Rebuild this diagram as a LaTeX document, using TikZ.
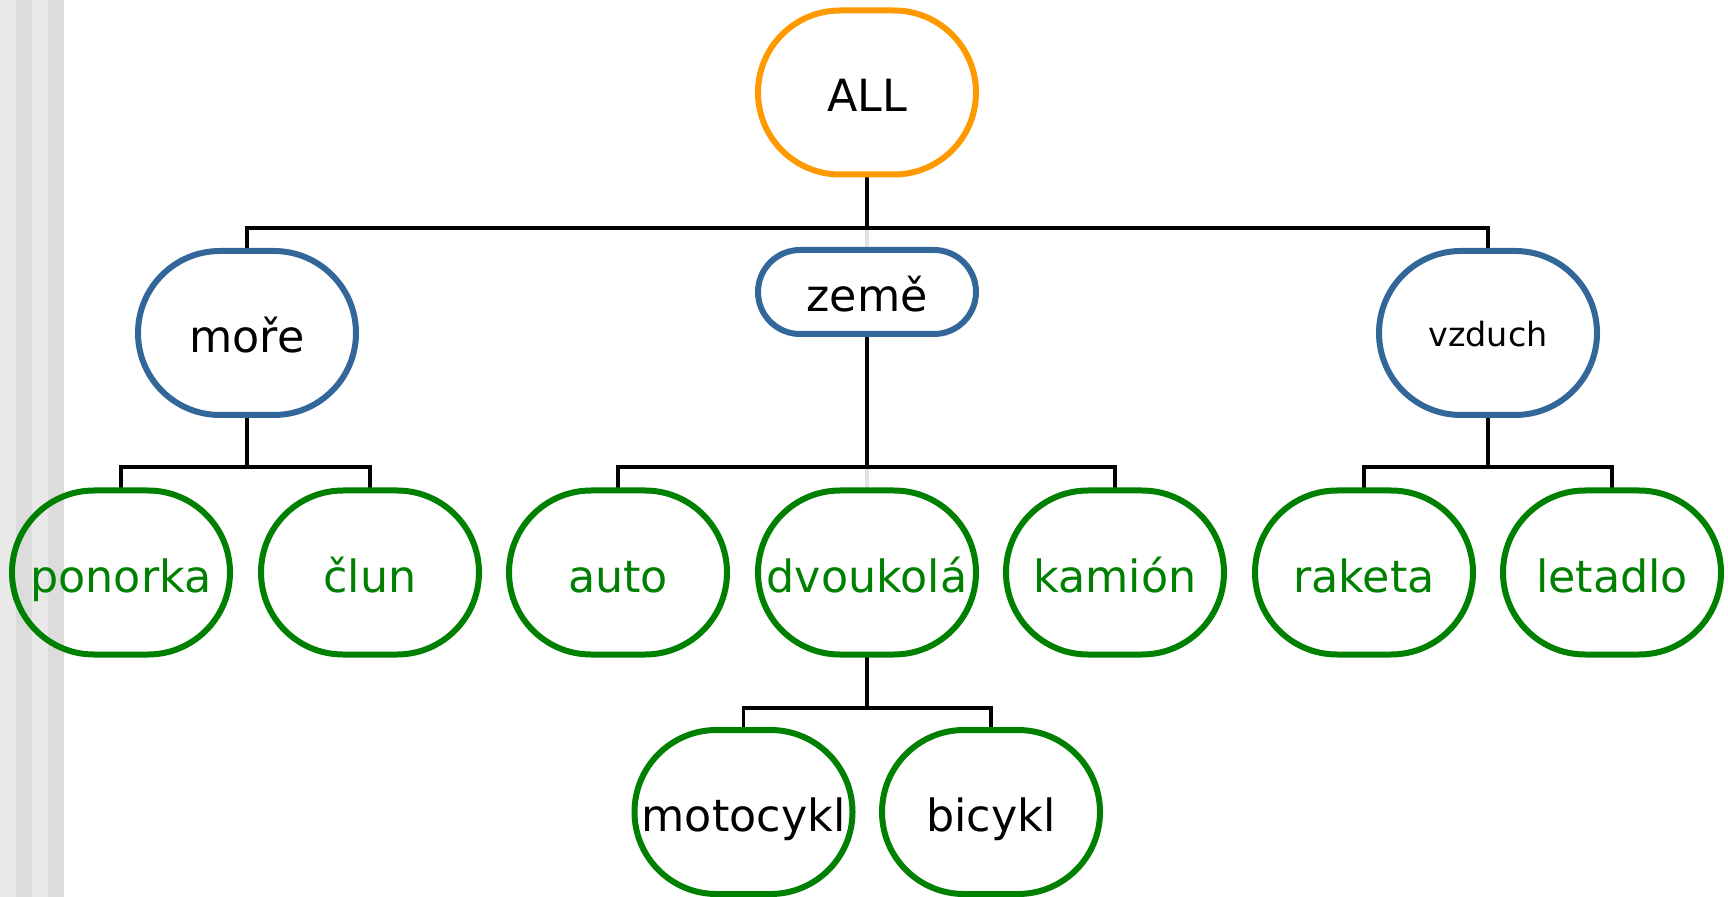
\documentclass[tikz,border=0pt]{standalone}
\usepackage{fontspec}
\setmainfont{DejaVu Sans}
\usetikzlibrary{calc}
\definecolor{cOrange}{HTML}{FF9900}
\definecolor{cBlue}{HTML}{336699}
\definecolor{cGreen}{HTML}{008000}
\definecolor{stripeA}{HTML}{E9E9E9}
\definecolor{stripeB}{HTML}{DCDCDC}
\definecolor{faint}{HTML}{E2E2E2}
\newcommand\stadoutline[3]{%
  \draw[line width=3pt,#1] ($(#2.north west)+(#3,0)$) -- ($(#2.north east)+(-#3,0)$)
    arc[start angle=90,end angle=-90,radius=#3] -- ($(#2.south west)+(#3,0)$)
    arc[start angle=270,end angle=90,radius=#3] -- cycle;}
\tikzset{
  stad/.style={rectangle, inner sep=0pt, outer sep=0pt, minimum width=109pt,
    minimum height=82pt, font=\fontsize{22.2}{26}\selectfont, text height=24.5pt, text depth=5pt},
  flatstad/.style={stad, minimum height=42pt},
  smalltxt/.style={font=\fontsize{16.7}{20}\selectfont, text height=18pt, text depth=4pt},
  leaf/.style={stad, text=cGreen},
  conn/.style={line width=1.75pt, black},
  ghost/.style={line width=1.75pt, faint}
}
\begin{document}
\begin{tikzpicture}[x=0.5pt,y=0.5pt]
\useasboundingbox (0,0) rectangle (1728,-897);
% background stripes
\fill[stripeA] (0,0) rectangle (16,-897);
\fill[stripeB] (16,0) rectangle (32,-897);
\fill[stripeA] (32,0) rectangle (48,-897);
\fill[stripeB] (48,0) rectangle (64,-897);
% nodes
\node[stad] (all) at (867,-92.5) {ALL};
\node[stad] (more) at (247,-333) {moře};
\node[flatstad] (zeme) at (867,-292) {země};
\node[stad,smalltxt] (vzduch) at (1488,-333) {vzduch};
\node[leaf] (ponorka) at (121,-572.5) {ponorka};
\node[leaf] (clun) at (370,-572.5) {člun};
\node[leaf] (auto) at (618,-572.5) {auto};
\node[leaf] (dvoukola) at (867,-572.5) {dvoukolá};
\node[leaf] (kamion) at (1115,-572.5) {kamión};
\node[leaf] (raketa) at (1364,-572.5) {raketa};
\node[leaf] (letadlo) at (1612,-572.5) {letadlo};
\node[stad] (motocykl) at (743.5,-812) {motocykl};
\node[stad] (bicykl) at (991,-812) {bicykl};
% bus coordinates
\coordinate (b1) at (867,-228);
\coordinate (b2) at (247,-467);
\coordinate (b3) at (867,-467);
\coordinate (b4) at (1488,-467);
\coordinate (b5) at (867,-708);
% faint segments
\draw[ghost] (b1) -- (zeme.north);
\draw[ghost] (b3) -- (dvoukola.north);
% connectors
\draw[conn] (all.south) -- (b1);
\draw[conn] (more.north) -- (more.north |- b1) -- (vzduch.north |- b1) -- (vzduch.north);
\draw[conn] (b1) -- (zeme.north |- b1);
\draw[conn] (more.south) -- (b2);
\draw[conn] (ponorka.north) -- (ponorka.north |- b2) -- (clun.north |- b2) -- (clun.north);
\draw[conn] (zeme.south) -- (b3);
\draw[conn] (auto.north) -- (auto.north |- b3) -- (kamion.north |- b3) -- (kamion.north);
\draw[conn] (vzduch.south) -- (b4);
\draw[conn] (raketa.north) -- (raketa.north |- b4) -- (letadlo.north |- b4) -- (letadlo.north);
\draw[conn] (dvoukola.south) -- (b5);
\draw[conn] (motocykl.north) -- (motocykl.north |- b5) -- (bicykl.north |- b5) -- (bicykl.north);
% outlines
\stadoutline{cOrange}{all}{82}
\stadoutline{cBlue}{more}{82}
\stadoutline{cBlue}{zeme}{42}
\stadoutline{cBlue}{vzduch}{82}
\stadoutline{cGreen}{ponorka}{82}
\stadoutline{cGreen}{clun}{82}
\stadoutline{cGreen}{auto}{82}
\stadoutline{cGreen}{dvoukola}{82}
\stadoutline{cGreen}{kamion}{82}
\stadoutline{cGreen}{raketa}{82}
\stadoutline{cGreen}{letadlo}{82}
\stadoutline{cGreen}{motocykl}{82}
\stadoutline{cGreen}{bicykl}{82}
\end{tikzpicture}
\end{document}
